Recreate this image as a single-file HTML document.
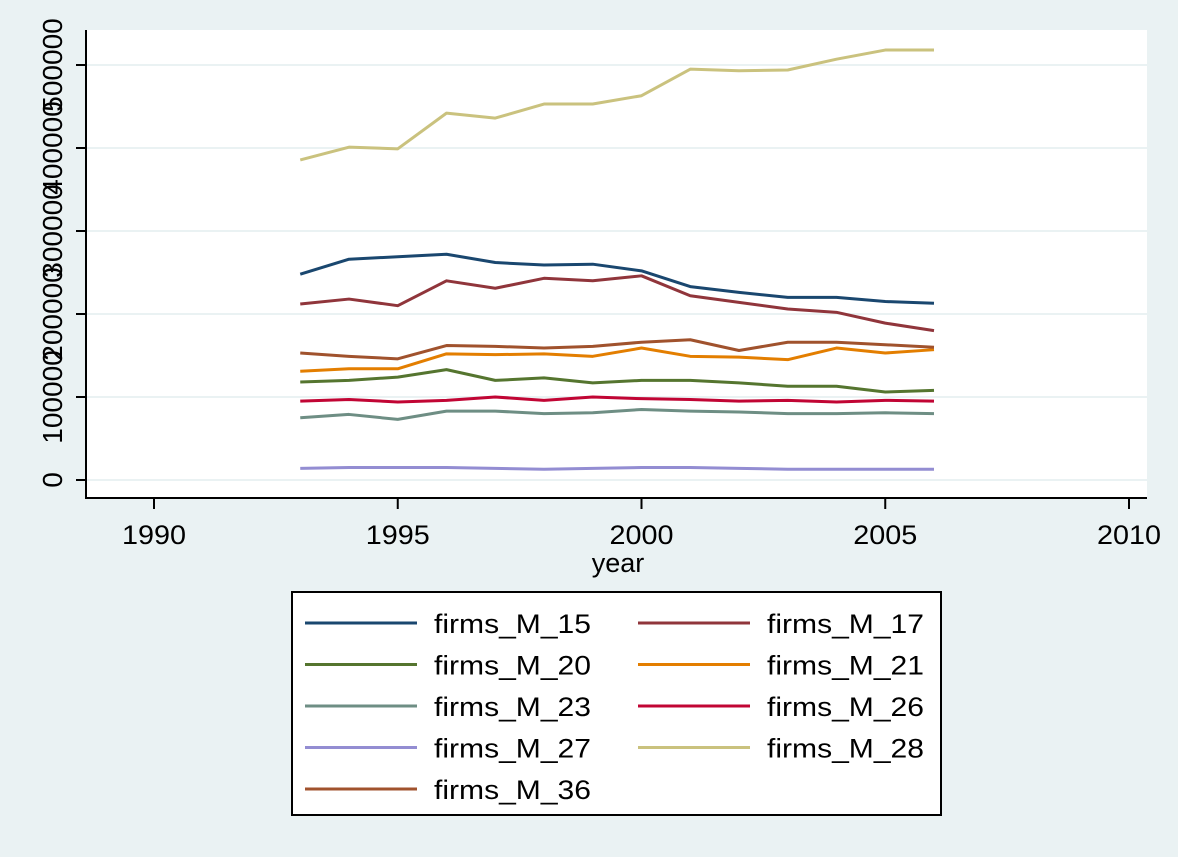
<!DOCTYPE html>
<html><head><meta charset="utf-8"><style>
body{margin:0;background:#eaf2f3;}
svg{display:block;font-family:"Liberation Sans",sans-serif;}
</style></head><body>
<svg id="c" width="1178" height="857"></svg>
<script>
const years=[1993,1994,1995,1996,1997,1998,1999,2000,2001,2002,2003,2004,2005,2006];
const seriesNames=["firms_M_15","firms_M_17","firms_M_20","firms_M_21","firms_M_23","firms_M_26","firms_M_27","firms_M_28","firms_M_36"];
const seriesColors=["#1a476f","#90353b","#55752f","#e37e00","#6e8e84","#c10534","#938dd2","#cac27e","#a0522d"];
const m15=[248000,266000,269000,272000,262000,259000,260000,252000,233000,226000,220000,220000,215000,213000];
const m17=[212000,218000,210000,240000,231000,243000,240000,246000,222000,214000,206000,202000,189000,180000];
const m20=[118000,120000,124000,133000,120000,123000,117000,120000,120000,117000,113000,113000,106000,108000];
const m21=[131000,134000,134000,152000,151000,152000,149000,159000,149000,148000,145000,159000,153000,157000];
const m23=[75000,79000,73000,83000,83000,80000,81000,85000,83000,82000,80000,80000,81000,80000];
const m26=[95000,97000,94000,96000,100000,96000,100000,98000,97000,95000,96000,94000,96000,95000];
const m27=[14000,15000,15000,15000,14000,13000,14000,15000,15000,14000,13000,13000,13000,13000];
const m28=[385600,401000,399000,442000,436000,453000,453000,463000,495000,493000,494000,507000,518000,518000];
const m36=[153000,149000,146000,162000,161000,159000,161000,166000,169000,156000,166000,166000,163000,160000];
const seriesValues=[m15,m17,m20,m21,m23,m26,m27,m28,m36];
const yTicks=[0,100000,200000,300000,400000,500000];
const xTicks=[1990,1995,2000,2005,2010];

const NS="http://www.w3.org/2000/svg";
const svg=document.getElementById('c');
function el(t,a,p){const e=document.createElementNS(NS,t);for(const k in a)e.setAttribute(k,a[k]);(p||svg).appendChild(e);return e;}
const X=v=>154+(v-1990)*48.75;
const Y=v=>480-v*0.00083;

const plot=el('rect',{x:86,y:30,width:1061,height:468,fill:'#fff'});


yTicks.forEach(t=>{
  const g=el('line',{x1:87,x2:1147,y1:Y(t),y2:Y(t),stroke:'#eaf2f3','stroke-width':2});
  
  
  const tk=el('line',{x1:76,x2:86,y1:Y(t),y2:Y(t),stroke:'#000','stroke-width':2});
  
  
  const tx=el('text',{x:0,y:0,'font-size':28,'text-anchor':'middle',transform:`translate(62,${Y(t)}) rotate(-90)`});
  tx.textContent=t;
  
  
});
xTicks.forEach(t=>{
  const tk=el('line',{x1:X(t),x2:X(t),y1:498,y2:509,stroke:'#000','stroke-width':2});
  
  
  const tx=el('text',{x:X(t),y:544,'font-size':27,'text-anchor':'middle',textLength:64,lengthAdjust:'spacingAndGlyphs'});
  tx.textContent=t;
  
  
});
const ax=el('path',{d:'M86,30 V498 H1147',fill:'none',stroke:'#000','stroke-width':2});


const xt=el('text',{x:618,y:572,'font-size':27,'text-anchor':'middle'});
xt.textContent='year';



seriesValues.forEach((vals,i)=>{
  const d=vals.map((v,j)=>(j?'L':'M')+X(years[j])+','+Y(v)).join(' ');
  const p=el('path',{d:d,fill:'none',stroke:seriesColors[i],'stroke-width':3,'stroke-linejoin':'round'});
  
  
});

const lg=el('g',{});


el('rect',{x:292,y:592,width:649,height:223,fill:'#fff',stroke:'#000','stroke-width':2},lg);
seriesNames.forEach((n,i)=>{
  const col=i%2,row=Math.floor(i/2);
  const lx=col?638:305, ly=623+row*41.5;
  const g=el('g',{},lg);
  
  
  el('line',{x1:lx,x2:lx+112,y1:ly,y2:ly,stroke:seriesColors[i],'stroke-width':3},g);
  const t=el('text',{x:lx+129,y:ly+10,'font-size':27,textLength:157,lengthAdjust:'spacingAndGlyphs'},g);
  t.textContent=n;
});
</script>
</body></html>
